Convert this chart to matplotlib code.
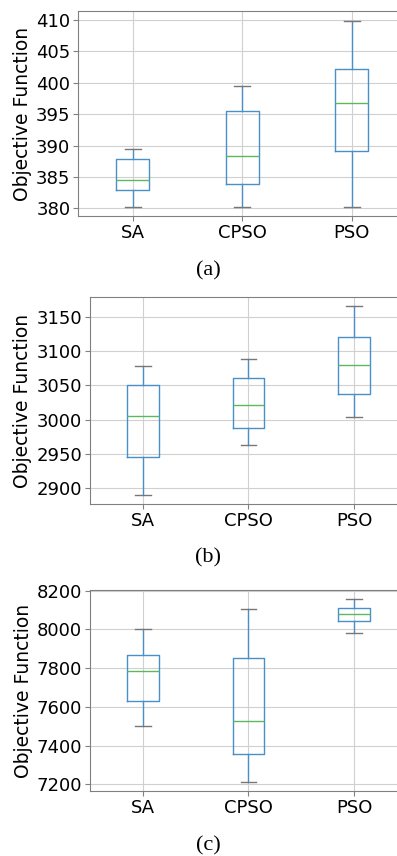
import matplotlib.pyplot as plt
import numpy as np

methods = ['SA', 'CPSO', 'PSO']

# per method: lower whisker, Q1, median, Q3, upper whisker
stats_a = [[380.2, 382.9, 384.5, 387.9, 389.5],
           [380.2, 383.9, 388.4, 395.5, 399.4],
           [380.2, 389.1, 396.7, 402.1, 409.8]]
stats_b = [[2890, 2945, 3005, 3051, 3078],
           [2963, 2988, 3022, 3060, 3089],
           [3004, 3037, 3079, 3120, 3165]]
stats_c = [[7501, 7629, 7784, 7868, 8004],
           [7210, 7357, 7525, 7854, 8104],
           [7981, 8042, 8080, 8112, 8154]]

yticks_a = [380, 385, 390, 395, 400, 405, 410]
yticks_b = [2900, 2950, 3000, 3050, 3100, 3150]
yticks_c = [7200, 7400, 7600, 7800, 8000, 8200]
captions = ['(a)', '(b)', '(c)']

W, H = 397, 856
fig = plt.figure(figsize=(W/100, H/100), dpi=100)

# pixel boxes: left, top, right, bottom
boxes = [(78, 11, 406.5, 216), (90, 296.7, 407, 504.3), (90, 590, 407, 791)]
ylims = [(378.8, 411.4), (2876.7, 3179), (7165.6, 8203)]
cap_y = [271, 558, 846]

for st, yt, box, yl, cap, cy in zip([stats_a, stats_b, stats_c],
        [yticks_a, yticks_b, yticks_c], boxes, ylims, captions, cap_y):
    l, t, r, b = box
    ax = fig.add_axes([l/W, (H-b)/H, (r-l)/W, (b-t)/H])
    bstats = [dict(whislo=s[0], q1=s[1], med=s[2], q3=s[3], whishi=s[4],
                   fliers=[], label=m) for s, m in zip(st, methods)]
    ax.bxp(bstats, positions=[1, 2, 3], widths=0.3,
           boxprops=dict(color='#4a90c8', lw=1.0),
           whiskerprops=dict(color='#4a90c8', lw=1.0),
           capprops=dict(color='#777777', lw=1.0),
           medianprops=dict(color='#5cb85c', lw=1.0))
    ax.set_xlim(0.5, 3.5)
    ax.set_ylim(*yl)
    ax.set_yticks(yt)
    ax.grid(True, color='#d0d0d0', lw=0.8)
    ax.set_axisbelow(True)
    for sp in ax.spines.values():
        sp.set_color('#808080')
    ax.tick_params(labelsize=13, color='#808080', length=3.5, pad=2)
    ax.set_ylabel('Objective Function', fontsize=13.5, labelpad=3)
    fig.text(208/W, 1 - cy/H, cap, ha='center', va='center',
             family='Liberation Serif', fontsize=16)

fig.savefig('out.png', dpi=100)
